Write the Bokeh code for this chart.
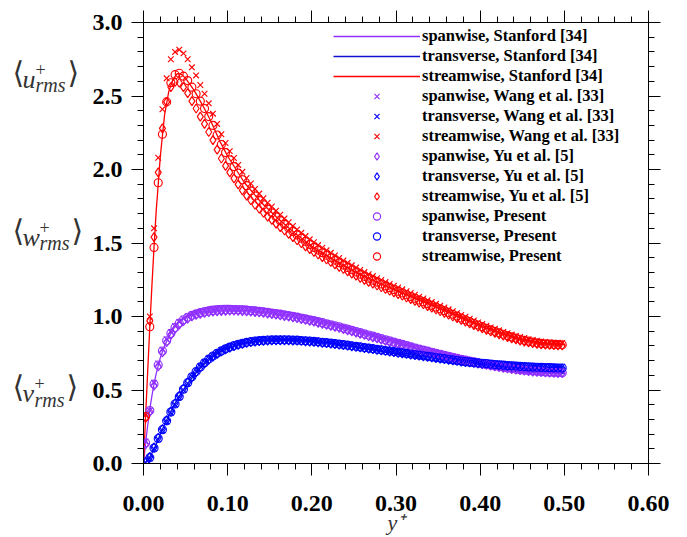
from bokeh.plotting import figure
from bokeh.layouts import row
from bokeh.models import (Range1d, LinearAxis, FixedTicker, PrintfTickFormatter,
                          CustomJSTickFormatter, Legend, LegendItem, Label, ColumnDataSource)
from bokeh.embed import file_html
from bokeh.resources import INLINE

# ---------------- data ----------------
# wall-normal positions of the point data (y/2h)
y_pts = [
    0.0025, 0.0075, 0.0125, 0.0175, 0.0225, 0.0275, 0.0325, 0.0375, 0.0425, 0.0475,
    0.0525, 0.0575, 0.0625, 0.0675, 0.0725, 0.0775, 0.0825, 0.0875, 0.0925, 0.0975,
    0.1025, 0.1075, 0.1125, 0.1175, 0.1225, 0.1275, 0.1325, 0.1375, 0.1425, 0.1475,
    0.1525, 0.1575, 0.1625, 0.1675, 0.1725, 0.1775, 0.1825, 0.1875, 0.1925, 0.1975,
    0.2025, 0.2075, 0.2125, 0.2175, 0.2225, 0.2275, 0.2325, 0.2375, 0.2425, 0.2475,
    0.2525, 0.2575, 0.2625, 0.2675, 0.2725, 0.2775, 0.2825, 0.2875, 0.2925, 0.2975,
    0.3025, 0.3075, 0.3125, 0.3175, 0.3225, 0.3275, 0.3325, 0.3375, 0.3425, 0.3475,
    0.3525, 0.3575, 0.3625, 0.3675, 0.3725, 0.3775, 0.3825, 0.3875, 0.3925, 0.3975,
    0.4025, 0.4075, 0.4125, 0.4175, 0.4225, 0.4275, 0.4325, 0.4375, 0.4425, 0.4475,
    0.4525, 0.4575, 0.4625, 0.4675, 0.4725, 0.4775, 0.4825, 0.4875, 0.4925, 0.4975,
]

# Stanford [34] reference curves
y_line = [0, 0.0025, 0.005, 0.0075, 0.01, 0.0125, 0.015, 0.02, 0.025, 0.03, 0.035, 0.04,
          0.045, 0.05, 0.06, 0.07, 0.08, 0.09, 0.1, 0.12, 0.14, 0.16, 0.18, 0.2, 0.22, 0.24,
          0.26, 0.28, 0.3, 0.32, 0.34, 0.36, 0.38, 0.4, 0.42, 0.44, 0.46, 0.48, 0.5]
stanford_stream = [0, 0.32, 0.63, 0.93, 1.21, 1.47, 1.71, 2.09, 2.37, 2.53, 2.615, 2.652,
                   2.648, 2.62, 2.54, 2.44, 2.33, 2.2, 2.09, 1.91, 1.775, 1.665, 1.567, 1.48,
                   1.408, 1.342, 1.28, 1.228, 1.178, 1.13, 1.082, 1.034, 0.984, 0.936, 0.894,
                   0.857, 0.829, 0.813, 0.808]
stanford_span = [0, 0.14, 0.26, 0.37, 0.46, 0.54, 0.61, 0.72, 0.80, 0.86, 0.91, 0.95, 0.98,
                 1.0, 1.035, 1.055, 1.068, 1.073, 1.075, 1.07, 1.058, 1.04, 1.02, 0.995,
                 0.965, 0.93, 0.895, 0.86, 0.825, 0.79, 0.755, 0.725, 0.695, 0.67, 0.645,
                 0.625, 0.61, 0.6, 0.595]
stanford_trans = [0, 0.01, 0.025, 0.045, 0.07, 0.10, 0.13, 0.20, 0.265, 0.325, 0.385, 0.435,
                  0.48, 0.525, 0.6, 0.665, 0.715, 0.755, 0.785, 0.82, 0.838, 0.845, 0.842,
                  0.835, 0.822, 0.805, 0.785, 0.765, 0.745, 0.725, 0.705, 0.688, 0.67, 0.655,
                  0.64, 0.628, 0.62, 0.615, 0.612]

# Wang et al. [33]
wang_stream = [
    0.33, 1.00, 1.60, 2.08, 2.41, 2.62, 2.75, 2.80, 2.815, 2.79,
    2.75, 2.695, 2.64, 2.575, 2.515, 2.45, 2.38, 2.31, 2.24, 2.18,
    2.125, 2.078, 2.031, 1.984, 1.942, 1.905, 1.868, 1.836, 1.805, 1.774,
    1.748, 1.72, 1.693, 1.667, 1.641, 1.616, 1.592, 1.569, 1.547, 1.525,
    1.505, 1.486, 1.468, 1.45, 1.433, 1.415, 1.398, 1.381, 1.365, 1.348,
    1.333, 1.317, 1.302, 1.288, 1.275, 1.261, 1.248, 1.234, 1.222, 1.209,
    1.197, 1.185, 1.172, 1.16, 1.148, 1.135, 1.123, 1.111, 1.098, 1.086,
    1.074, 1.061, 1.049, 1.036, 1.023, 1.01, 0.998, 0.985, 0.973, 0.96,
    0.949, 0.938, 0.926, 0.916, 0.906, 0.895, 0.886, 0.877, 0.868, 0.86,
    0.853, 0.846, 0.84, 0.835, 0.83, 0.827, 0.825, 0.822, 0.821, 0.82,
]
wang_span = [
    0.15, 0.36, 0.55, 0.68, 0.775, 0.845, 0.895, 0.935, 0.963, 0.985,
    1.0, 1.014, 1.024, 1.032, 1.038, 1.043, 1.046, 1.049, 1.051, 1.052,
    1.053, 1.053, 1.052, 1.051, 1.049, 1.047, 1.044, 1.041, 1.038, 1.034,
    1.03, 1.026, 1.022, 1.017, 1.012, 1.007, 1.002, 0.996, 0.99, 0.984,
    0.978, 0.971, 0.964, 0.957, 0.95, 0.943, 0.936, 0.928, 0.92, 0.912,
    0.904, 0.896, 0.888, 0.88, 0.872, 0.864, 0.856, 0.848, 0.84, 0.832,
    0.826, 0.818, 0.81, 0.802, 0.794, 0.786, 0.779, 0.772, 0.765, 0.758,
    0.751, 0.744, 0.737, 0.73, 0.723, 0.717, 0.711, 0.705, 0.699, 0.693,
    0.687, 0.682, 0.677, 0.672, 0.667, 0.662, 0.658, 0.654, 0.65, 0.646,
    0.643, 0.64, 0.637, 0.635, 0.633, 0.631, 0.629, 0.628, 0.627, 0.626,
]
wang_trans = [
    0.005, 0.035, 0.1, 0.165, 0.225, 0.285, 0.345, 0.4, 0.45, 0.5,
    0.545, 0.594, 0.629, 0.661, 0.689, 0.714, 0.735, 0.754, 0.77, 0.784,
    0.796, 0.806, 0.815, 0.822, 0.828, 0.833, 0.837, 0.84, 0.842, 0.844,
    0.845, 0.846, 0.846, 0.846, 0.845, 0.844, 0.843, 0.841, 0.839, 0.837,
    0.835, 0.832, 0.829, 0.826, 0.823, 0.82, 0.816, 0.813, 0.809, 0.805,
    0.801, 0.797, 0.793, 0.789, 0.785, 0.781, 0.777, 0.773, 0.769, 0.765,
    0.763, 0.759, 0.755, 0.751, 0.747, 0.743, 0.739, 0.735, 0.731, 0.727,
    0.723, 0.719, 0.715, 0.711, 0.707, 0.703, 0.7, 0.697, 0.694, 0.691,
    0.69, 0.688, 0.685, 0.682, 0.68, 0.678, 0.676, 0.674, 0.672, 0.67,
    0.668, 0.666, 0.665, 0.664, 0.663, 0.662, 0.661, 0.66, 0.659, 0.659,
]

# Yu et al. [5]
yu_stream = [
    0.31, 0.97, 1.54, 1.98, 2.28, 2.46, 2.56, 2.595, 2.59, 2.56,
    2.52, 2.465, 2.415, 2.36, 2.31, 2.255, 2.20, 2.135, 2.075, 2.025,
    1.98, 1.94, 1.899, 1.858, 1.822, 1.791, 1.76, 1.733, 1.706, 1.679,
    1.657, 1.632, 1.608, 1.585, 1.562, 1.54, 1.519, 1.498, 1.477, 1.458,
    1.439, 1.422, 1.404, 1.388, 1.371, 1.355, 1.338, 1.323, 1.307, 1.292,
    1.278, 1.263, 1.249, 1.236, 1.224, 1.211, 1.199, 1.187, 1.175, 1.164,
    1.152, 1.141, 1.129, 1.118, 1.106, 1.094, 1.083, 1.071, 1.06, 1.048,
    1.036, 1.025, 1.013, 1.0, 0.989, 0.976, 0.965, 0.953, 0.941, 0.93,
    0.919, 0.908, 0.898, 0.888, 0.878, 0.869, 0.86, 0.851, 0.844, 0.836,
    0.829, 0.824, 0.818, 0.814, 0.81, 0.808, 0.806, 0.805, 0.804, 0.803,
]
yu_span = [
    0.13, 0.35, 0.53, 0.66, 0.755, 0.825, 0.875, 0.915, 0.945, 0.968,
    0.985, 1.0, 1.01, 1.018, 1.024, 1.029, 1.032, 1.035, 1.037, 1.038,
    1.039, 1.039, 1.038, 1.037, 1.035, 1.033, 1.03, 1.027, 1.024, 1.02,
    1.016, 1.012, 1.008, 1.003, 0.998, 0.993, 0.988, 0.982, 0.976, 0.97,
    0.964, 0.957, 0.95, 0.943, 0.936, 0.929, 0.922, 0.914, 0.906, 0.898,
    0.89, 0.882, 0.874, 0.866, 0.858, 0.85, 0.842, 0.834, 0.826, 0.818,
    0.814, 0.806, 0.798, 0.79, 0.782, 0.774, 0.767, 0.76, 0.753, 0.746,
    0.739, 0.732, 0.725, 0.718, 0.711, 0.705, 0.699, 0.693, 0.687, 0.681,
    0.675, 0.67, 0.665, 0.66, 0.655, 0.65, 0.646, 0.642, 0.638, 0.634,
    0.631, 0.628, 0.625, 0.623, 0.621, 0.619, 0.617, 0.616, 0.615, 0.614,
]
yu_trans = [
    0.008, 0.045, 0.11, 0.175, 0.235, 0.295, 0.355, 0.41, 0.46, 0.51,
    0.552, 0.586, 0.621, 0.653, 0.681, 0.706, 0.727, 0.746, 0.762, 0.776,
    0.788, 0.798, 0.807, 0.814, 0.82, 0.825, 0.829, 0.832, 0.834, 0.836,
    0.837, 0.838, 0.838, 0.838, 0.837, 0.836, 0.835, 0.833, 0.831, 0.829,
    0.827, 0.824, 0.821, 0.818, 0.815, 0.812, 0.808, 0.805, 0.801, 0.797,
    0.793, 0.789, 0.785, 0.781, 0.777, 0.773, 0.769, 0.765, 0.761, 0.757,
    0.753, 0.749, 0.745, 0.741, 0.737, 0.733, 0.729, 0.725, 0.721, 0.717,
    0.713, 0.709, 0.705, 0.701, 0.697, 0.693, 0.69, 0.687, 0.684, 0.681,
    0.678, 0.675, 0.672, 0.669, 0.667, 0.665, 0.663, 0.661, 0.659, 0.657,
    0.655, 0.653, 0.652, 0.651, 0.65, 0.649, 0.648, 0.647, 0.646, 0.646,
]

# Present
present_stream = [
    0.32, 0.93, 1.47, 1.91, 2.24, 2.46, 2.59, 2.645, 2.655, 2.635,
    2.605, 2.56, 2.515, 2.465, 2.415, 2.36, 2.30, 2.235, 2.17, 2.115,
    2.065, 2.02, 1.975, 1.93, 1.89, 1.855, 1.82, 1.79, 1.76, 1.73,
    1.705, 1.678, 1.652, 1.627, 1.602, 1.578, 1.555, 1.533, 1.511, 1.49,
    1.47, 1.452, 1.434, 1.417, 1.40, 1.383, 1.366, 1.35, 1.334, 1.318,
    1.303, 1.288, 1.273, 1.26, 1.247, 1.234, 1.221, 1.208, 1.196, 1.184,
    1.172, 1.16, 1.148, 1.136, 1.124, 1.112, 1.10, 1.088, 1.076, 1.064,
    1.052, 1.04, 1.028, 1.015, 1.003, 0.99, 0.978, 0.966, 0.954, 0.942,
    0.931, 0.92, 0.909, 0.899, 0.889, 0.879, 0.87, 0.861, 0.853, 0.845,
    0.838, 0.832, 0.826, 0.821, 0.817, 0.814, 0.812, 0.81, 0.809, 0.808,
]
present_span = [
    0.14, 0.36, 0.54, 0.67, 0.765, 0.835, 0.885, 0.925, 0.955, 0.978,
    0.995, 1.008, 1.018, 1.026, 1.032, 1.037, 1.04, 1.043, 1.045, 1.046,
    1.047, 1.047, 1.046, 1.045, 1.043, 1.041, 1.038, 1.035, 1.032, 1.028,
    1.024, 1.02, 1.016, 1.011, 1.006, 1.001, 0.996, 0.99, 0.984, 0.978,
    0.972, 0.965, 0.958, 0.951, 0.944, 0.937, 0.93, 0.922, 0.914, 0.906,
    0.898, 0.89, 0.882, 0.874, 0.866, 0.858, 0.85, 0.842, 0.834, 0.826,
    0.818, 0.81, 0.802, 0.794, 0.786, 0.778, 0.771, 0.764, 0.757, 0.75,
    0.743, 0.736, 0.729, 0.722, 0.715, 0.709, 0.703, 0.697, 0.691, 0.685,
    0.679, 0.674, 0.669, 0.664, 0.659, 0.654, 0.65, 0.646, 0.642, 0.638,
    0.635, 0.632, 0.629, 0.627, 0.625, 0.623, 0.621, 0.62, 0.619, 0.618,
]
present_trans = [
    0.01, 0.04, 0.105, 0.17, 0.23, 0.29, 0.35, 0.405, 0.455, 0.505,
    0.55, 0.59, 0.625, 0.657, 0.685, 0.71, 0.731, 0.75, 0.766, 0.78,
    0.792, 0.802, 0.811, 0.818, 0.824, 0.829, 0.833, 0.836, 0.838, 0.84,
    0.841, 0.842, 0.842, 0.842, 0.841, 0.84, 0.839, 0.837, 0.835, 0.833,
    0.831, 0.828, 0.825, 0.822, 0.819, 0.816, 0.812, 0.809, 0.805, 0.801,
    0.797, 0.793, 0.789, 0.785, 0.781, 0.777, 0.773, 0.769, 0.765, 0.761,
    0.757, 0.753, 0.749, 0.745, 0.741, 0.737, 0.733, 0.729, 0.725, 0.721,
    0.717, 0.713, 0.709, 0.705, 0.701, 0.697, 0.694, 0.691, 0.688, 0.685,
    0.682, 0.679, 0.676, 0.673, 0.671, 0.669, 0.667, 0.665, 0.663, 0.661,
    0.659, 0.657, 0.656, 0.655, 0.654, 0.653, 0.652, 0.651, 0.65, 0.65,
]

x_major = [0.0, 0.1, 0.2, 0.3, 0.4, 0.5, 0.6]
y_major = [0.0, 0.5, 1.0, 1.5, 2.0, 2.5, 3.0]
x_title = "y⁺"

# ---------------- styling ----------------
PURPLE = "#9030ff"
BLUE = "#0000ff"
BLUE_LINE = "#1010d0"
RED = "#ff0000"
FONT = "Liberation Serif"
MATH = "#333333"

W, H = 687, 537
LEFT_W = 84                       # strip holding the y-quantity names
FL, FR, FT, FB = 143, 648, 22, 464  # frame edges in the window

p = figure(width=W - LEFT_W, height=H, output_backend="svg", toolbar_location=None,
           x_range=Range1d(0, 0.6), y_range=Range1d(0, 3.0),
           x_axis_location=None, y_axis_location=None,
           min_border_left=FL - LEFT_W, min_border_right=W - FR,
           min_border_top=FT, min_border_bottom=H - FB)
p.outline_line_color = None
p.grid.visible = False
p.background_fill_color = "white"
p.border_fill_color = "white"

x_minor = [round(i * 0.02, 2) for i in range(31)]
y_minor = [round(i * 0.1, 1) for i in range(31)]


def style_axis(ax, show_labels, fmt):
    ax.axis_line_color = "black"
    ax.axis_line_width = 1
    ax.major_tick_line_color = "black"
    ax.minor_tick_line_color = "black"
    ax.major_tick_out = 12
    ax.major_tick_in = 0
    ax.minor_tick_out = 6
    ax.minor_tick_in = 0
    if show_labels:
        ax.formatter = PrintfTickFormatter(format=fmt)
        ax.major_label_text_font = FONT
        ax.major_label_text_font_style = "bold"
        ax.major_label_text_font_size = "24px"
        ax.major_label_text_color = "black"
    else:
        ax.formatter = CustomJSTickFormatter(code="return ''")


for loc in ["below", "above"]:
    ax = LinearAxis(ticker=FixedTicker(ticks=x_major, minor_ticks=x_minor))
    style_axis(ax, loc == "below", "%.2f")
    ax.major_label_standoff = 20
    if loc == "below":
        ax.axis_label = x_title
        ax.axis_label_text_font = FONT
        ax.axis_label_text_font_style = "italic"
        ax.axis_label_text_font_size = "22px"
        ax.axis_label_text_color = MATH
        ax.axis_label_standoff = -4
    p.add_layout(ax, loc)
for loc in ["left", "right"]:
    ax = LinearAxis(ticker=FixedTicker(ticks=y_major, minor_ticks=y_minor))
    style_axis(ax, loc == "left", "%.1f")
    ax.major_label_standoff = 9
    p.add_layout(ax, loc)

# ---------------- glyphs ----------------
line_src = ColumnDataSource(dict(x=y_line, span=stanford_span, trans=stanford_trans,
                                 stream=stanford_stream))
pts_src = ColumnDataSource(dict(x=y_pts,
                                w_span=wang_span, w_trans=wang_trans, w_stream=wang_stream,
                                y_span=yu_span, y_trans=yu_trans, y_stream=yu_stream,
                                p_span=present_span, p_trans=present_trans,
                                p_stream=present_stream))

items = []
r = p.line("x", "span", source=line_src, line_color=PURPLE, line_width=1.3)
items.append(("spanwise, Stanford [34]", r))
r = p.line("x", "trans", source=line_src, line_color=BLUE_LINE, line_width=1.3)
items.append(("transverse, Stanford [34]", r))
r = p.line("x", "stream", source=line_src, line_color=RED, line_width=1.3)
items.append(("streamwise, Stanford [34]", r))

for fam, marker, size, name in [("w", "x", 8, "Wang et al. [33]"),
                                ("y", "diamond", 9, "Yu et al. [5]"),
                                ("p", "circle", 8, "Present")]:
    for comp, col, cname in [("span", PURPLE, "spanwise"), ("trans", BLUE, "transverse"),
                             ("stream", RED, "streamwise")]:
        r = p.scatter("x", f"{fam}_{comp}", source=pts_src, marker=marker, size=size,
                      line_color=col, line_width=1.15, fill_alpha=0)
        items.append((f"{cname}, {name}", r))

# legend: bottom-left corner given in pixels from the frame's bottom-left corner
legend = Legend(items=[LegendItem(label=l, renderers=[r]) for l, r in items],
                location=(190, 197), margin=0, padding=0, spacing=0,
                glyph_width=87, glyph_height=18, label_height=18, label_standoff=2,
                label_text_font=FONT, label_text_font_style="bold",
                label_text_font_size="16.5px", label_text_color="black",
                border_line_color=None, background_fill_alpha=0)
p.add_layout(legend)

# ---------------- left strip with the quantity names ----------------
# the strip's frame is aligned with the main frame (rows FT..FB), so its y range
# is expressed in window pixels
lf = figure(width=LEFT_W, height=H, output_backend="svg", toolbar_location=None,
            x_range=Range1d(0, LEFT_W), y_range=Range1d(FB, FT),
            x_axis_location=None, y_axis_location=None, min_border=0)
lf.outline_line_color = None
lf.grid.visible = False
lf.background_fill_color = "white"
lf.border_fill_color = "white"


def add_text(txt, cx, cy, size, style="normal", baseline="alphabetic", font=FONT):
    lf.add_layout(Label(x=cx, y=cy, text=txt, text_font=font, text_font_size=size,
                        text_font_style=style, text_baseline=baseline, text_align="left",
                        text_color=MATH))


def add_math(letter, lw, cy):
    add_text("⟨", 12, cy, "30px", baseline="middle", font="DejaVu Serif")
    add_text(letter, 22, cy + 7, "26px", style="italic")
    add_text("+", 22 + lw, cy - 3, "18px")
    add_text("rms", 22 + lw, cy + 13, "20px", style="italic")
    add_text("⟩", 22 + lw + 32, cy, "30px", baseline="middle", font="DejaVu Serif")


add_math("u", 13, 72)
add_math("w", 17, 230)
add_math("v", 12, 387)

layout = row(lf, p, spacing=0)
open("out.html", "w").write(file_html(layout, INLINE))
